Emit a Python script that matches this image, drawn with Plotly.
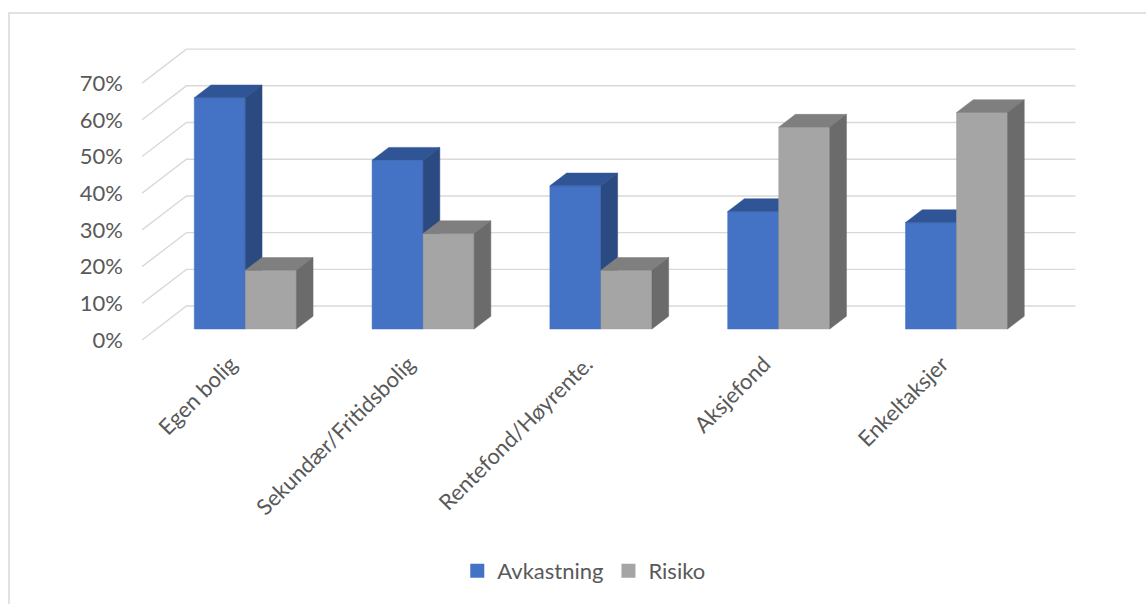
import plotly.graph_objects as go

categories = ["Egen bolig", "Sekundær/Fritidsbolig", "Rentefond/Høyrente.", "Aksjefond", "Enkeltaksjer"]
avkastning = [63, 46, 39, 32, 29]
risiko = [16, 26, 16, 55, 59]
y_ticks = [0, 10, 20, 30, 40, 50, 60, 70]
series = [
    ("Avkastning", avkastning, "#4472C4", "#2F5597", "#2B4A82"),
    ("Risiko", risiko, "#A5A5A5", "#7F7F7F", "#6B6B6B"),
]

# oblique projection: depth d in [0,1] shifts points by (d*DX, d*DY)
DX, DY = 0.25, 9.26
D1, D2 = 0.324, 0.70
W = 0.287
TEXT = "#595959"
GRID = "#D9D9D9"

fig = go.Figure()

# gridlines: back wall + left side wall
gx, gy = [], []
for v in y_ticks:
    gx += [-0.5, -0.5 + DX, len(categories) - 0.5 + DX, None]
    gy += [v, v + DY, v + DY, None]
fig.add_trace(go.Scatter(x=gx, y=gy, mode="lines", line=dict(color=GRID, width=1.4),
                         hoverinfo="skip", showlegend=False))

for si, (name, vals, cf, ct, cs) in enumerate(series):
    fx, fy, tx, ty, sx, sy = [], [], [], [], [], []
    for i, v in enumerate(vals):
        x0 = i - W + si * W
        x1 = x0 + W
        a, b = D1 * DX, D2 * DX
        ya, yb = D1 * DY, D2 * DY
        fx += [x0 + a, x1 + a, x1 + a, x0 + a, x0 + a, None]
        fy += [ya, ya, v + ya, v + ya, ya, None]
        tx += [x0 + a, x1 + a, x1 + b, x0 + b, x0 + a, None]
        ty += [v + ya, v + ya, v + yb, v + yb, v + ya, None]
        sx += [x1 + a, x1 + b, x1 + b, x1 + a, x1 + a, None]
        sy += [ya, yb, v + yb, v + ya, ya, None]
    for xs, ys, c in ((fx, fy, cf), (tx, ty, ct), (sx, sy, cs)):
        fig.add_trace(go.Scatter(x=xs, y=ys, mode="lines", fill="toself", fillcolor=c,
                                 line=dict(color=c, width=0.5), hoverinfo="skip",
                                 showlegend=False))
    fig.add_trace(go.Scatter(x=[None], y=[None], mode="markers", name=name,
                             marker=dict(symbol="square", size=14, color=cf)))

fig.update_layout(
    width=1146, height=604,
    margin=dict(l=142, r=70, t=46, b=258),
    paper_bgcolor="white", plot_bgcolor="white",
    font=dict(family="Lato, Carlito, sans-serif", size=22, color=TEXT),
    showlegend=True,
    legend=dict(orientation="h", x=0.473, xanchor="center", y=(346 - 571) / 300, yanchor="middle",
                font=dict(size=22, color=TEXT), itemclick=False),
    xaxis=dict(range=[-0.5, 4.753], tickvals=[i for i in range(len(categories))],
               ticktext=categories, tickangle=-45, showgrid=False, zeroline=False,
               showline=False, ticks="", fixedrange=True),
    yaxis=dict(range=[-1.63, 80.11], tickvals=y_ticks, ticktext=[f"{v}%" for v in y_ticks],
               showgrid=False, zeroline=False, showline=False, ticks="",
               ticklabelstandoff=18, fixedrange=True),
    shapes=[dict(type="rect", xref="paper", yref="paper", x0=(9 - 142) / 934, x1=1.2,
                 y0=-2, y1=(346 - 13) / 300, line=dict(color=GRID, width=1.5),
                 fillcolor="rgba(0,0,0,0)", layer="below")],
)

fig.write_html("out.html")
